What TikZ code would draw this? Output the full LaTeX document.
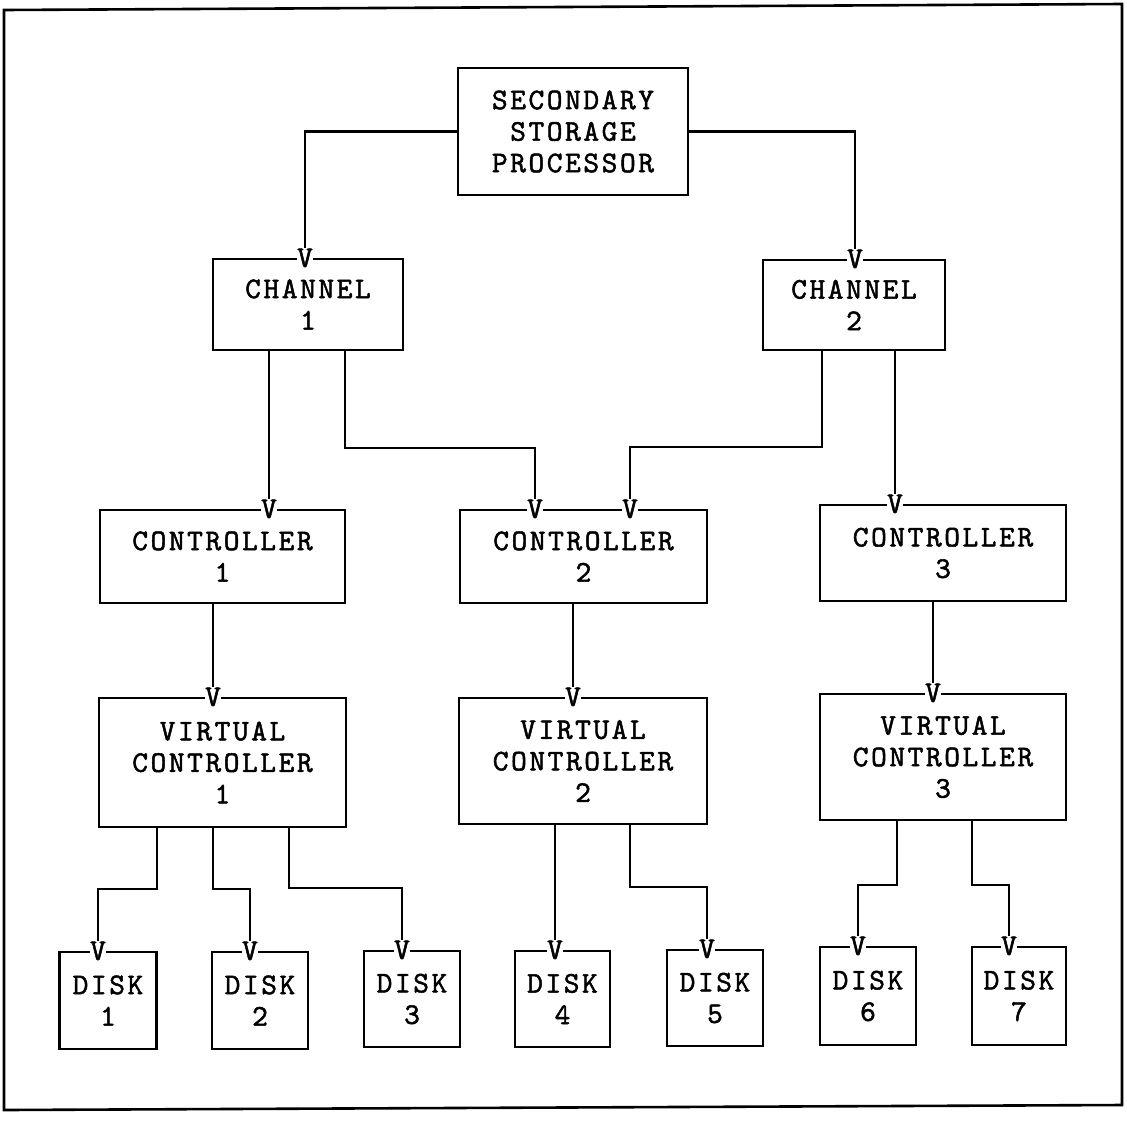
\documentclass[tikz,border=0pt]{standalone}
\usepackage{fontspec}
\newfontfamily\typewriter{lmmono10-regular}[Extension=.otf, LetterSpace=8.5, FakeBold=1.6]
\begin{document}
\begin{tikzpicture}[x=1pt,y=-1pt,
  every node/.style={font=\typewriter\fontsize{30}{31.5}\selectfont},
  unit/.style={draw, line width=2.1pt, inner sep=0pt, align=center},
  link/.style={line width=2.1pt},
  vmark/.style={fill=white, inner sep=0.6pt},
  frame/.style={line width=2.6pt, line join=miter}]
\useasboundingbox (0,0) rectangle (1127,1120);

% outer frame
\draw[frame] (4,10) -- (1122,4) -- (1122,1105) -- (4,1110) -- cycle;

% processor and channels
\node[unit, minimum width=230, minimum height=127] (ssp) at (573,131.5) {SECONDARY\\STORAGE\\PROCESSOR};
\node[unit, minimum width=190, minimum height=91] (ch1) at (308,304.5) {CHANNEL\\1};
\node[unit, minimum width=182, minimum height=90] (ch2) at (854,305) {CHANNEL\\2};

% controllers
\node[unit, minimum width=245, minimum height=93] (ctl1) at (222.5,556.5) {CONTROLLER\\1};
\node[unit, minimum width=247, minimum height=93] (ctl2) at (583.5,556.5) {CONTROLLER\\2};
\node[unit, minimum width=246, minimum height=96] (ctl3) at (943,553) {CONTROLLER\\3};

% virtual controllers
\node[unit, minimum width=247, minimum height=129] (vc1) at (222.5,762.5) {VIRTUAL\\CONTROLLER\\1};
\node[unit, minimum width=248, minimum height=126] (vc2) at (583,761) {VIRTUAL\\CONTROLLER\\2};
\node[unit, minimum width=246, minimum height=126] (vc3) at (943,757) {VIRTUAL\\CONTROLLER\\3};

% disks
\node[unit, minimum width=97, minimum height=97] (d1) at (108,1000.5) {DISK\\1};
\node[unit, minimum width=96, minimum height=97] (d2) at (260,1000.5) {DISK\\2};
\node[unit, minimum width=96, minimum height=96] (d3) at (412,999) {DISK\\3};
\node[unit, minimum width=95, minimum height=96] (d4) at (562.5,999) {DISK\\4};
\node[unit, minimum width=96, minimum height=96] (d5) at (715,998) {DISK\\5};
\node[unit, minimum width=96, minimum height=98] (d6) at (868,996) {DISK\\6};
\node[unit, minimum width=94, minimum height=98] (d7) at (1019,996) {DISK\\7};

% entry points on the top edges
\coordinate (ch1in) at (ch1.north -| 305,0);
\coordinate (ch2in) at (ch2.north -| 855,0);
\coordinate (c1in) at (ctl1.north -| 269,0);
\coordinate (c2inL) at (ctl2.north -| 535,0);
\coordinate (c2inR) at (ctl2.north -| 630,0);
\coordinate (c3in) at (ctl3.north -| 895,0);
\coordinate (vc1in) at (vc1.north -| 213,0);
\coordinate (vc2in) at (vc2.north -| 573,0);
\coordinate (vc3in) at (vc3.north -| 933,0);
\coordinate (d1in) at (d1.north -| 98,0);
\coordinate (d2in) at (d2.north -| 250,0);
\coordinate (d3in) at (d3.north -| 402,0);
\coordinate (d4in) at (d4.north -| 555,0);
\coordinate (d5in) at (d5.north -| 707,0);
\coordinate (d6in) at (d6.north -| 858,0);
\coordinate (d7in) at (d7.north -| 1009,0);

% connections
\draw[link] (ssp.west) -| (ch1in);
\draw[link] (ssp.east) -| (ch2in);
\draw[link] (ch1.south -| c1in) -- (c1in);
\draw[link] (ch1.south -| 345,0) |- (c2inL |- 0,448) -- (c2inL);
\draw[link] (ch2.south -| 822,0) |- (c2inR |- 0,447) -- (c2inR);
\draw[link] (ch2.south -| c3in) -- (c3in);
\draw[link] (ctl1.south -| vc1in) -- (vc1in);
\draw[link] (ctl2.south -| vc2in) -- (vc2in);
\draw[link] (ctl3.south -| vc3in) -- (vc3in);
\draw[link] (vc1.south -| 157,0) |- (d1in |- 0,889) -- (d1in);
\draw[link] (vc1.south -| 213,0) |- (d2in |- 0,889) -- (d2in);
\draw[link] (vc1.south -| 289,0) |- (d3in |- 0,888) -- (d3in);
\draw[link] (vc2.south -| d4in) -- (d4in);
\draw[link] (vc2.south -| 630,0) |- (d5in |- 0,887) -- (d5in);
\draw[link] (vc3.south -| 897,0) |- (d6in |- 0,885) -- (d6in);
\draw[link] (vc3.south -| 972,0) |- (d7in |- 0,885) -- (d7in);

% V marks where lines enter
\node[vmark] (vch1) at (ch1in) {V};
\node[vmark] (vch2) at (ch2in) {V};
\node[vmark] (vc1a) at (c1in) {V};
\node[vmark] (vc2a) at (c2inL) {V};
\node[vmark] (vc2b) at (c2inR) {V};
\node[vmark] (vc3a) at (c3in) {V};
\node[vmark] (vvc1) at (vc1in) {V};
\node[vmark] (vvc2) at (vc2in) {V};
\node[vmark] (vvc3) at (vc3in) {V};
\node[vmark] (vd1) at (d1in) {V};
\node[vmark] (vd2) at (d2in) {V};
\node[vmark] (vd3) at (d3in) {V};
\node[vmark] (vd4) at (d4in) {V};
\node[vmark] (vd5) at (d5in) {V};
\node[vmark] (vd6) at (d6in) {V};
\node[vmark] (vd7) at (d7in) {V};
\end{tikzpicture}
\end{document}
